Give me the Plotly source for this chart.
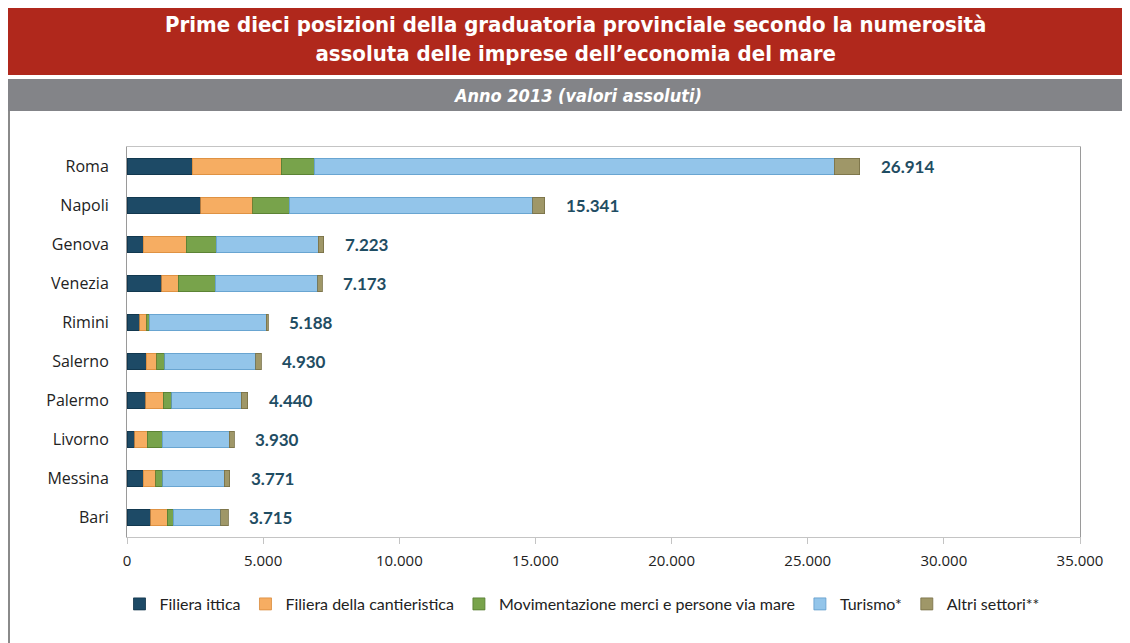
import plotly.graph_objects as go

provinces = ["Roma", "Napoli", "Genova", "Venezia", "Rimini", "Salerno", "Palermo", "Livorno", "Messina", "Bari"]
filiera_ittica = [2400, 2710, 590, 1270, 470, 710, 690, 280, 590, 870]
cantieristica = [3270, 1900, 1590, 610, 260, 380, 640, 470, 460, 610]
movimentazione = [1200, 1350, 1100, 1370, 90, 290, 310, 550, 270, 210]
turismo = [19100, 8940, 3740, 3760, 4290, 3350, 2560, 2450, 2250, 1750]
altri = [944, 441, 203, 163, 78, 200, 240, 180, 201, 275]
totals = [26914, 15341, 7223, 7173, 5188, 4930, 4440, 3930, 3771, 3715]
tick_vals = [0, 5000, 10000, 15000, 20000, 25000, 30000, 35000]
tick_text = ["0", "5.000", "10.000", "15.000", "20.000", "25.000", "30.000", "35.000"]

series = [
    ("Filiera ittica", filiera_ittica, "#1d4a66", "#10334a"),
    ("Filiera della cantieristica", cantieristica, "#f6ad62", "#d98b3c"),
    ("Movimentazione merci e persone via mare", movimentazione, "#78a34b", "#557a30"),
    ("Turismo*", turismo, "#93c5ea", "#5f9ccb"),
    ("Altri settori**", altri, "#9f9768", "#776f45"),
]

# page body has an 8px margin: figure origin sits at (8, 8) of the window
OFF = 8
W, H = 1130 - OFF, 643 - OFF
L, T = 127 - OFF, 147 - OFF
R = W - (1080 - OFF)
B = H - (537 - OFF)
pw, ph = W - L - R, H - T - B

def px(x):  # window pixel -> paper
    return (x - OFF - L) / pw

def py(y):
    return (H - B - (y - OFF)) / ph

LABEL_FONT = "Open Sans, Lato, sans-serif"
HEAD_FONT = "Liberation Sans Narrow, DejaVu Sans Condensed, sans-serif"

fig = go.Figure()
for name, vals, col, lcol in series:
    fig.add_trace(go.Bar(
        y=provinces, x=vals, name=name, orientation="h",
        marker=dict(color=col, line=dict(color=lcol, width=0.8)),
    ))

for p, t in zip(provinces, totals):
    fig.add_annotation(
        x=t, y=p, xref="x", yref="y", text=f"{t:,}".replace(",", "."),
        showarrow=False, xanchor="left", xshift=19,
        font=dict(family="Lato, Open Sans, sans-serif", size=17, color="#1f4d63", weight="bold"),
    )

shapes = [
    dict(type="rect", xref="paper", yref="paper", x0=px(8), x1=px(1135), y0=py(75), y1=py(8),
         fillcolor="#b0281c", line=dict(width=0), layer="below"),
    dict(type="rect", xref="paper", yref="paper", x0=px(8), x1=px(1135), y0=py(111), y1=py(79),
         fillcolor="#838488", line=dict(width=0), layer="below"),
    dict(type="line", xref="paper", yref="paper", x0=px(9), x1=px(9), y0=py(650), y1=py(111),
         line=dict(color="#8a8a8a", width=2)),
]

fig.add_annotation(x=px(575), y=py(39), xref="paper", yref="paper", showarrow=False,
                   text="Prime dieci posizioni della graduatoria provinciale secondo la numerosità<br>assoluta delle imprese dell’economia del mare",
                   font=dict(family=HEAD_FONT, size=22, color="white", weight="bold"),
                   align="center", xanchor="center", yanchor="middle")
fig.add_annotation(x=px(577), y=py(95), xref="paper", yref="paper", showarrow=False,
                   text="<i>Anno 2013 (valori assoluti)</i>",
                   font=dict(family=HEAD_FONT, size=18, color="white", weight="bold"),
                   xanchor="center", yanchor="middle")

fig.update_layout(
    width=W, height=H,
    margin=dict(l=L, r=R, t=T, b=B, autoexpand=False),
    paper_bgcolor="white", plot_bgcolor="white",
    barmode="stack", bargap=0.58,
    shapes=shapes,
    showlegend=True,
    legend=dict(orientation="h", x=px(582), xanchor="center", y=py(604), yanchor="middle",
                font=dict(family="Lato, Open Sans, sans-serif", size=16, color="#222222"),
                itemwidth=30, traceorder="normal"),
    xaxis=dict(range=[0, 35000], tickvals=tick_vals, ticktext=tick_text,
               showgrid=False, zeroline=False, showline=True, linecolor="#c4c4c4", mirror=True,
               ticks="outside", ticklen=6, tickcolor="#c4c4c4",
               tickfont=dict(family=LABEL_FONT, size=15, color="#222222"),
               ticklabelstandoff=4),
    yaxis=dict(autorange="reversed", showgrid=False, showline=True, linecolor="#9a9a9a", mirror=True,
               tickfont=dict(family=LABEL_FONT, size=16, color="#222222"),
               ticks="", ticklabelstandoff=14),
)

fig.write_html("out.html")
